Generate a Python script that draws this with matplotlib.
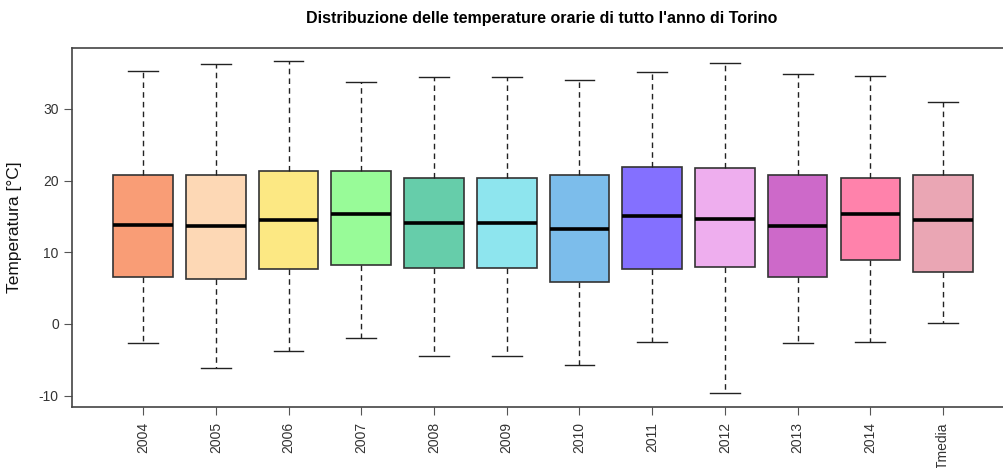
import matplotlib
matplotlib.use("Agg")
import matplotlib.pyplot as plt

plt.rcParams['font.family'] = ['Liberation Sans', 'DejaVu Sans']
plt.rcParams['axes.unicode_minus'] = False

labels = ['2004', '2005', '2006', '2007', '2008', '2009', '2010',
          '2011', '2012', '2013', '2014', 'Tmedia']
whisk_lo = [-2.65, -6.1, -3.8, -1.9, -4.5, -4.5, -5.8, -2.5, -9.7, -2.7, -2.5, 0.1]
q1 = [6.6, 6.2, 7.6, 8.2, 7.8, 7.8, 5.9, 7.6, 8.0, 6.6, 8.9, 7.2]
med = [13.85, 13.7, 14.5, 15.3, 14.1, 14.1, 13.3, 15.1, 14.6, 13.7, 15.4, 14.5]
q3 = [20.8, 20.8, 21.4, 21.4, 20.3, 20.3, 20.8, 21.85, 21.7, 20.8, 20.3, 20.8]
whisk_hi = [35.3, 36.2, 36.7, 33.8, 34.4, 34.4, 34.1, 35.1, 36.4, 34.9, 34.6, 30.9]
colors = ['#F99D76', '#FDD8B5', '#FCE883', '#98FB98', '#66CDAA', '#8EE5EE',
          '#7CBDEB', '#8470FF', '#EEAEEE', '#CD69C9', '#FF82AB', '#EAA6B4']

stats = []
for i in range(len(labels)):
    stats.append({'label': labels[i], 'whislo': whisk_lo[i], 'q1': q1[i],
                  'med': med[i], 'q3': q3[i], 'whishi': whisk_hi[i], 'fliers': []})

fig = plt.figure(figsize=(10.04, 4.68), dpi=100)
ax = fig.add_axes([0.0717, 0.1303, 0.935, 0.7671])

bp = ax.bxp(stats, positions=range(1, 13), widths=0.82, patch_artist=True,
            showfliers=False,
            boxprops=dict(edgecolor='#333333', linewidth=1.2),
            whiskerprops=dict(color='#222222', linestyle=(0, (4, 3)), linewidth=1.0),
            capprops=dict(color='#222222', linewidth=1.0),
            medianprops=dict(color='black', linewidth=2.6),
            capwidths=0.41)
for patch, c in zip(bp['boxes'], colors):
    patch.set_facecolor(c)

ax.set_xlim(0.022, 12.93)
ax.set_ylim(-11.6, 38.5)
ax.set_yticks([-10, 0, 10, 20, 30])
ax.set_xticks(range(1, 13))
ax.set_xticklabels(labels, rotation=90, fontsize=10, color='#333333')
ax.tick_params(axis='y', labelsize=10, labelcolor='#333333', length=6, color='#555555')
ax.tick_params(axis='x', length=6, color='#555555', pad=5)
for s in ax.spines.values():
    s.set_color('#444444')
    s.set_linewidth(1.2)

ax.set_ylabel('Temperatura [°C]', fontsize=12.5, color='#111111', labelpad=12)
fig.text(0.54, 0.96, "Distribuzione delle temperature orarie di tutto l'anno di Torino",
         ha='center', va='center', fontsize=11.5, fontweight='bold')

fig.savefig('out.png', dpi=100)
